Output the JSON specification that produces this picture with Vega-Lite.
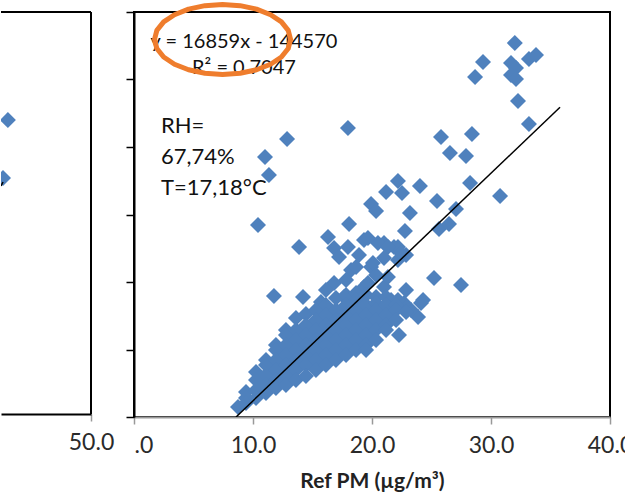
{
  "$schema": "https://vega.github.io/schema/vega-lite/v6.json",
  "padding": 0,
  "background": "white",
  "bounds": "flush",
  "spacing": 43,
  "config": {
    "font": "Lato",
    "view": {"stroke": null},
    "axis": {"labelFont": "Lato", "titleFont": "Lato", "grid": false}
  },
  "datasets": {
    "main": [
      {"x":32.0,"y":554100},{"x":29.33,"y":525900},{"x":28.66,"y":503700},{"x":31.68,"y":524500},{"x":32.1,"y":517000},{"x":31.68,"y":506700},{"x":32.1,"y":500700},{"x":33.19,"y":530400},{"x":33.78,"y":536300},{"x":32.27,"y":468200},{"x":33.19,"y":434100},{"x":25.8,"y":414800},{"x":28.4,"y":419300},{"x":26.55,"y":391100},{"x":27.9,"y":386700},{"x":28.24,"y":346700},{"x":30.76,"y":327400},{"x":22.18,"y":349600},{"x":21.18,"y":333300},{"x":22.52,"y":331900},{"x":24.03,"y":342200},{"x":25.46,"y":320000},{"x":27.06,"y":308200},{"x":23.19,"y":302200},{"x":22.77,"y":275600},{"x":25.63,"y":278500},{"x":26.47,"y":285900},{"x":21.01,"y":257800},{"x":22.18,"y":251900},{"x":22.86,"y":240000},{"x":17.98,"y":428200},{"x":12.86,"y":411900},{"x":11.01,"y":385200},{"x":11.34,"y":358500},{"x":10.42,"y":284400},{"x":13.87,"y":251900},{"x":19.92,"y":315600},{"x":20.34,"y":305200},{"x":18.07,"y":285900},{"x":25.21,"y":205900},{"x":27.48,"y":195600},{"x":24.29,"y":173300},{"x":23.87,"y":148200},{"x":22.27,"y":121500},{"x":23.28,"y":158500},{"x":11.76,"y":179300},{"x":14.2,"y":177800},
      {"x":16.3,"y":266700},{"x":16.81,"y":250400},{"x":17.98,"y":251900},{"x":17.23,"y":237000},{"x":19.33,"y":262200},{"x":20.5,"y":257800},{"x":21.85,"y":251900},{"x":22.18,"y":232600},{"x":19.92,"y":222200},{"x":18.24,"y":217800},{"x":16.81,"y":198500},{"x":19.33,"y":192600},{"x":21.01,"y":192600},{"x":21.6,"y":173300},{"x":22.69,"y":168900},{"x":17.65,"y":177800},{"x":19.66,"y":265200},{"x":21.34,"y":251900},{"x":22.44,"y":243000},{"x":18.66,"y":222200},{"x":20.08,"y":228200},{"x":21.01,"y":235600},{"x":19.66,"y":198500},{"x":21.34,"y":207400},{"x":22.18,"y":173300},{"x":24.12,"y":168900},{"x":22.86,"y":188200},{"x":20.34,"y":210400},{"x":18.91,"y":240000},{"x":17.82,"y":203000},{"x":16.13,"y":188200},{"x":15.71,"y":170400},
      {"x":8.74,"y":14800},
      {"x":9.41,"y":37000},{"x":9.41,"y":28100},{"x":9.41,"y":20700},
      {"x":10.25,"y":66700},{"x":10.25,"y":54800},{"x":10.25,"y":40000},{"x":10.25,"y":28100},
      {"x":11.09,"y":84400},{"x":11.09,"y":77000},{"x":11.09,"y":62200},{"x":11.09,"y":47400},{"x":11.09,"y":35600},
      {"x":11.93,"y":106700},{"x":11.93,"y":99300},{"x":11.93,"y":84400},{"x":11.93,"y":69600},{"x":11.93,"y":54800},{"x":11.93,"y":43000},
      {"x":12.77,"y":128900},{"x":12.77,"y":121500},{"x":12.77,"y":106700},{"x":12.77,"y":91900},{"x":12.77,"y":77000},{"x":12.77,"y":62200},{"x":12.77,"y":47400},
      {"x":13.61,"y":146700},{"x":13.61,"y":128900},{"x":13.61,"y":114100},{"x":13.61,"y":99300},{"x":13.61,"y":84400},{"x":13.61,"y":69600},{"x":13.61,"y":54800},
      {"x":14.45,"y":152600},{"x":14.45,"y":136300},{"x":14.45,"y":121500},{"x":14.45,"y":106700},{"x":14.45,"y":91900},{"x":14.45,"y":77000},{"x":14.45,"y":60700},
      {"x":15.29,"y":158500},{"x":15.29,"y":143700},{"x":15.29,"y":128900},{"x":15.29,"y":114100},{"x":15.29,"y":99300},{"x":15.29,"y":84400},{"x":15.29,"y":69600},
      {"x":16.13,"y":165900},{"x":16.13,"y":151100},{"x":16.13,"y":136300},{"x":16.13,"y":121500},{"x":16.13,"y":106700},{"x":16.13,"y":91900},{"x":16.13,"y":77000},
      {"x":16.97,"y":176300},{"x":16.97,"y":158500},{"x":16.97,"y":143700},{"x":16.97,"y":128900},{"x":16.97,"y":114100},{"x":16.97,"y":99300},{"x":16.97,"y":84400},
      {"x":17.82,"y":180700},{"x":17.82,"y":165900},{"x":17.82,"y":151100},{"x":17.82,"y":136300},{"x":17.82,"y":121500},{"x":17.82,"y":106700},{"x":17.82,"y":91900},
      {"x":18.66,"y":183700},{"x":18.66,"y":173300},{"x":18.66,"y":158500},{"x":18.66,"y":143700},{"x":18.66,"y":128900},{"x":18.66,"y":114100},{"x":18.66,"y":99300},
      {"x":19.5,"y":180700},{"x":19.5,"y":165900},{"x":19.5,"y":151100},{"x":19.5,"y":136300},{"x":19.5,"y":121500},{"x":19.5,"y":106700},{"x":19.5,"y":99300},
      {"x":20.34,"y":177800},{"x":20.34,"y":168900},{"x":20.34,"y":158500},{"x":20.34,"y":143700},{"x":20.34,"y":128900},{"x":20.34,"y":114100},
      {"x":21.18,"y":177800},{"x":21.18,"y":165900},{"x":21.18,"y":151100},{"x":21.18,"y":136300},{"x":21.18,"y":128900},
      {"x":22.02,"y":165900},{"x":22.02,"y":158500},{"x":22.02,"y":143700},
      {"x":22.86,"y":155600}
    ],
    "fit": [{"x":8.575,"y":0},{"x":35.8,"y":458980}],
    "left": [{"x":41.78,"y":438800},{"x":41.3,"y":352200}],
    "leftfit": [{"x":41.1,"y":340300},{"x":41.3,"y":346300}]
  },
  "hconcat": [
    {
      "width": 90,
      "height": 402,
      "layer": [
        {
          "data": {"name": "left"},
          "mark": {"type": "point", "shape": "diamond", "filled": true, "size": 256, "color": "#4F81BD", "opacity": 1, "clip": true},
          "encoding": {
            "x": {"field": "x", "type": "quantitative", "scale": {"domain": [41.1, 50], "nice": false, "zero": false},
              "axis": {"values": [50], "format": ".1f", "title": null, "labelFlush": false, "domainColor": "black", "domainWidth": 2, "tickColor": "#999", "tickSize": 7, "tickWidth": 1.5, "labelFontSize": 23, "labelColor": "#2a2a2a", "labelPadding": 10}},
            "y": {"field": "y", "type": "quantitative", "scale": {"domain": [0, 600000], "nice": false}, "axis": null}
          }
        },
        {
          "data": {"name": "leftfit"},
          "mark": {"type": "line", "color": "black", "strokeWidth": 1.5, "clip": true},
          "encoding": {"x": {"field": "x", "type": "quantitative"}, "y": {"field": "y", "type": "quantitative"}}
        },
        {
          "data": {"values": [{}]},
          "mark": {"type": "rule", "color": "black", "strokeWidth": 2},
          "encoding": {"y": {"datum": 600000}}
        },
        {
          "data": {"values": [{}]},
          "mark": {"type": "rule", "color": "black", "strokeWidth": 2},
          "encoding": {"x": {"datum": 50}}
        }
      ]
    },
    {
      "width": 476,
      "height": 405,
      "view": {"stroke": "black", "strokeWidth": 2},
      "layer": [
        {
          "data": {"name": "main"},
          "mark": {"type": "point", "shape": "diamond", "filled": true, "size": 256, "color": "#4F81BD", "opacity": 1, "clip": true},
          "encoding": {
            "x": {"field": "x", "type": "quantitative", "scale": {"domain": [0, 40], "nice": false, "zero": false},
              "axis": {"values": [0, 10, 20, 30, 40], "format": ".1f", "labelFlush": false,
                "labelExpr": "datum.value == 0 ? '.0' : datum.label",
                "labelAlign": {"condition": {"test": "datum.value == 0", "value": "left"}, "value": "center"},
                "title": "Ref PM (µg/m³)", "titleFontWeight": "bold", "titleFontSize": 21, "titleColor": "#222", "titlePadding": 13,
                "domainColor": "#999", "domainWidth": 2, "tickColor": "#999", "tickSize": 7, "tickWidth": 1.5,
                "labelFontSize": 23, "labelColor": "#2a2a2a", "labelPadding": 10}},
            "y": {"field": "y", "type": "quantitative", "scale": {"domain": [0, 600000], "nice": false},
              "axis": {"values": [0, 100000, 200000, 300000, 400000, 500000, 600000], "labels": false, "title": null,
                "domainColor": "black", "domainWidth": 2, "tickColor": "black", "tickSize": 8, "tickWidth": 1.5}}
          }
        },
        {
          "data": {"name": "fit"},
          "mark": {"type": "line", "color": "black", "strokeWidth": 1.5, "clip": true},
          "encoding": {"x": {"field": "x", "type": "quantitative"}, "y": {"field": "y", "type": "quantitative"}}
        },
        {
          "data": {"values": [{}]},
          "mark": {"type": "text", "text": "y = 16859x - 144570", "align": "center", "baseline": "middle", "fontSize": 20, "color": "#111"},
          "encoding": {"x": {"datum": 9.24}, "y": {"datum": 555600}}
        },
        {
          "data": {"values": [{}]},
          "mark": {"type": "text", "text": "R² = 0.7047", "align": "center", "baseline": "middle", "fontSize": 20, "color": "#111"},
          "encoding": {"x": {"datum": 9.24}, "y": {"datum": 517000}}
        },
        {
          "data": {"values": [{}]},
          "mark": {"type": "text", "text": ["RH=", "67,74%", "T=17,18°C"], "lineHeight": 31, "align": "left", "baseline": "middle", "fontSize": 22, "color": "#111"},
          "encoding": {"x": {"datum": 2.27}, "y": {"datum": 431100}}
        },
        {
          "data": {"values": [{}]},
          "mark": {"type": "point", "shape": "M1,0L0.966,0.133L0.866,0.258L0.707,0.364L0.5,0.446L0.259,0.497L0,0.515L-0.259,0.497L-0.5,0.446L-0.707,0.364L-0.866,0.258L-0.966,0.133L-1,0L-0.966,-0.133L-0.866,-0.258L-0.707,-0.364L-0.5,-0.446L-0.259,-0.497L0,-0.515L0.259,-0.497L0.5,-0.446L0.707,-0.364L0.866,-0.258L0.966,-0.133Z", "filled": false, "color": "#EF7D2D", "strokeWidth": 5, "strokeJoin": "round", "size": 18496, "opacity": 1},
          "encoding": {"x": {"datum": 7.44}, "y": {"datum": 559300}}
        }
      ]
    }
  ]
}
